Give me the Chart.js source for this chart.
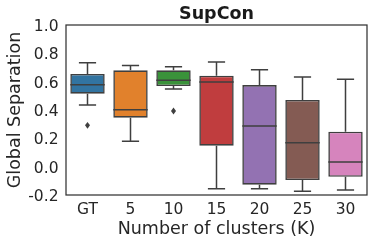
<!DOCTYPE html>
<html>
<head>
<meta charset="utf-8">
<script src="https://cdn.jsdelivr.net/npm/chart.js@4"></script>
<style>
  html, body { margin: 0; padding: 0; background: #fff; }
  #wrap { width: 374px; height: 246px; }
</style>
</head>
<body>
<div id="wrap"><canvas id="chart" width="374" height="246"></canvas></div>
<script>
// values
var categories = ["GT", "5", "10", "15", "20", "25", "30"];
var whiskerLow = [0.435, 0.179, 0.548, -0.155, -0.155, -0.174, -0.165];
var q1Values = [0.515, 0.346, 0.569, 0.148, -0.127, -0.094, -0.071];
var medianValues = [0.579, 0.402, 0.610, 0.598, 0.287, 0.169, 0.033];
var q3Values = [0.654, 0.680, 0.680, 0.642, 0.576, 0.471, 0.247];
var whiskerHigh = [0.734, 0.715, 0.706, 0.739, 0.685, 0.633, 0.617];
var outlierValues = [[0.292], [], [0.393], [], [], [], []];
var boxColors = ["#3274a1", "#e1812c", "#3a923a", "#c03d3e", "#9372b2", "#845b53", "#d684bd"];
var yTickLabels = ["-0.2", "0.0", "0.2", "0.4", "0.6", "0.8", "1.0"];

var lineColor = "#3f3f3f";
var textColor = "#262626";
var fontFamily = "'DejaVu Sans', sans-serif";

var boxes = categories.map((c, i) => [q1Values[i], q3Values[i]]);

// whiskers, caps, medians, fliers and the frame
var boxPlotPlugin = {
    id: 'boxPlotParts',
    afterDatasetsDraw(chart) {
        let ctx = chart.ctx;
        let xs = chart.scales.x;
        let ys = chart.scales.y;
        let meta = chart.getDatasetMeta(0);
        ctx.save();
        ctx.strokeStyle = lineColor;
        ctx.lineWidth = 1.5;
        categories.forEach((c, i) => {
            let x = xs.getPixelForValue(i);
            let half = meta.data[i].width / 2;
            let cap = half / 2;
            let yLow = ys.getPixelForValue(whiskerLow[i]);
            let yQ1 = ys.getPixelForValue(q1Values[i]);
            let yMed = ys.getPixelForValue(medianValues[i]);
            let yQ3 = ys.getPixelForValue(q3Values[i]);
            let yHigh = ys.getPixelForValue(whiskerHigh[i]);
            ctx.beginPath();
            ctx.moveTo(x, yQ1); ctx.lineTo(x, yLow);
            ctx.moveTo(x - cap, yLow); ctx.lineTo(x + cap, yLow);
            ctx.moveTo(x, yQ3); ctx.lineTo(x, yHigh);
            ctx.moveTo(x - cap, yHigh); ctx.lineTo(x + cap, yHigh);
            ctx.moveTo(x - half, yMed); ctx.lineTo(x + half, yMed);
            ctx.stroke();
            ctx.fillStyle = lineColor;
            outlierValues[i].forEach(v => {
                let y = ys.getPixelForValue(v);
                ctx.beginPath();
                ctx.moveTo(x, y - 3.4);
                ctx.lineTo(x + 2.5, y);
                ctx.lineTo(x, y + 3.4);
                ctx.lineTo(x - 2.5, y);
                ctx.closePath();
                ctx.fill();
            });
        });
        let a = chart.chartArea;
        ctx.strokeStyle = "#333333";
        ctx.lineWidth = 1.25;
        ctx.strokeRect(a.left, a.top, a.right - a.left, a.bottom - a.top);
        ctx.restore();
    }
};

new Chart(document.getElementById("chart"), {
    type: 'bar',
    data: {
        labels: categories,
        datasets: [{
            data: boxes,
            backgroundColor: boxColors,
            borderColor: lineColor,
            borderWidth: 1.6,
            borderSkipped: false,
            categoryPercentage: 1.0,
            barPercentage: 0.8
        }]
    },
    options: {
        responsive: false,
        animation: false,
        layout: { padding: { left: 0, right: 7, top: 0, bottom: 0 } },
        plugins: {
            legend: { display: false },
            tooltip: { enabled: false }
        },
        scales: {
            x: {
                grid: { display: false, drawTicks: false },
                border: { display: false },
                ticks: { color: textColor, font: { family: fontFamily, size: 15.5 }, padding: 6 },
                title: {
                    display: true,
                    text: "Number of clusters (K)",
                    color: textColor,
                    font: { family: fontFamily, size: 17.5 },
                    padding: { top: 0, bottom: 6.5 }
                },
                afterFit: function(scale) { scale.height = 51; }
            },
            // top axis only carries the panel title, centred over the plot
            top: {
                type: 'category',
                position: 'top',
                grid: { display: false, drawTicks: false },
                border: { display: false },
                ticks: { display: false },
                title: {
                    display: true,
                    text: "SupCon",
                    color: "#1a1a1a",
                    font: { family: fontFamily, size: 17.5, weight: 'bold' },
                    padding: { top: 3.5, bottom: 0 }
                },
                afterFit: function(scale) { scale.height = 25; }
            },
            y: {
                min: -0.2,
                max: 1.0,
                grid: { display: false, drawTicks: false },
                border: { display: false },
                ticks: {
                    stepSize: 0.2,
                    color: textColor,
                    font: { family: fontFamily, size: 15.5 },
                    padding: 7.5,
                    labelOffset: 2,
                    callback: function(value) {
                        let idx = Math.round((value + 0.2) / 0.2);
                        return yTickLabels[idx];
                    }
                },
                title: {
                    display: true,
                    text: "Global Separation",
                    color: textColor,
                    font: { family: fontFamily, size: 17.5 },
                    padding: { top: 4.5, bottom: 0 }
                },
                afterFit: function(scale) { scale.width = 66; }
            }
        }
    },
    plugins: [boxPlotPlugin]
});
</script>
</body>
</html>
